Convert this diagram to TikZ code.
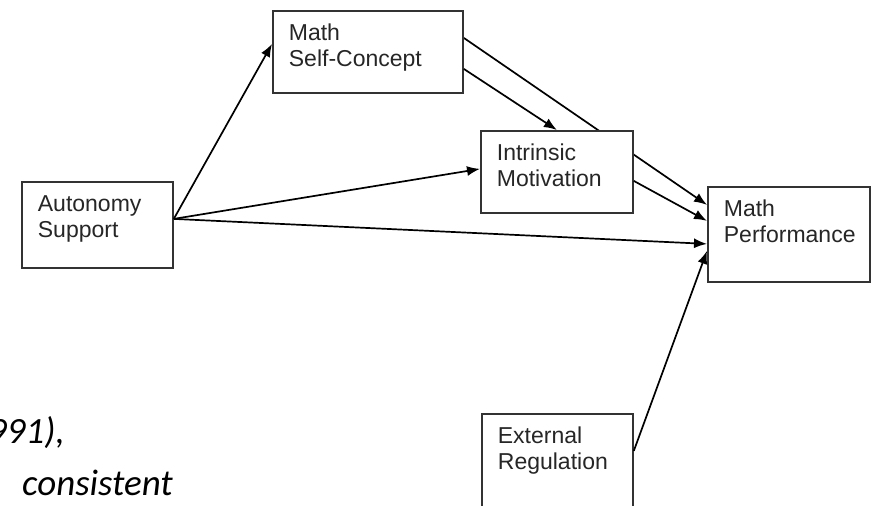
\documentclass[tikz,border=0pt]{standalone}
\usepackage{fontspec}
\setmainfont{Liberation Sans}
\newfontfamily\slidefont{Carlito}
\usetikzlibrary{arrows.meta,backgrounds}

\begin{document}
\begin{tikzpicture}[x=1pt,y=-1pt,>={Latex[length=13pt,width=10pt]},
box/.style={draw=black!80,line width=1.8pt,fill=white,anchor=north west,align=left,
  inner xsep=16pt,inner ysep=0pt,text height=30pt,text=black!85,
  font=\fontsize{23}{25.5}\selectfont},
link/.style={->,line width=1.7pt},
slide/.style={anchor=base west,inner sep=0pt,font=\slidefont\itshape\fontsize{37}{40}\selectfont}]
\useasboundingbox (0,0) rectangle (871,506);
\node[slide] (yr) at (-12,443) {991),};
\node[slide] (cons) at (22,495) {consistent};
\node[box,text width=119pt,text depth=56pt] (as) at (21,181) {Autonomy\\Support};
\node[box,text width=158pt,text depth=52pt] (msc) at (272,10) {Math\\Self-Concept};
\node[box,text width=120pt,text depth=52pt] (im) at (480,130) {Intrinsic\\Motivation};
\node[box,text width=130pt,text depth=65pt] (mp) at (707,186) {Math\\Performance};
\node[box,text width=119pt,text depth=70pt] (er) at (481,413) {External\\Regulation};
% paths
\begin{scope}[on background layer]
\draw[link] ([yshift=14pt]msc.east) -- ([yshift=29.5pt]mp.west);
\end{scope}
\draw[link] ([yshift=6pt]as.east) -- ([yshift=8pt]msc.west);
\draw[link] ([yshift=6pt]as.east) -- ([yshift=3pt]im.west);
\draw[link] ([yshift=6pt]as.east) -- ([yshift=-9.5pt]mp.west);
\draw[link] ([yshift=-17pt]msc.east) -- (im.north);
\draw[link] ([yshift=-9pt]im.east) -- ([yshift=13.5pt]mp.west);
\draw[link] ([yshift=13pt]er.east) -- ([yshift=-16.5pt]mp.west);
\end{tikzpicture}
\end{document}
